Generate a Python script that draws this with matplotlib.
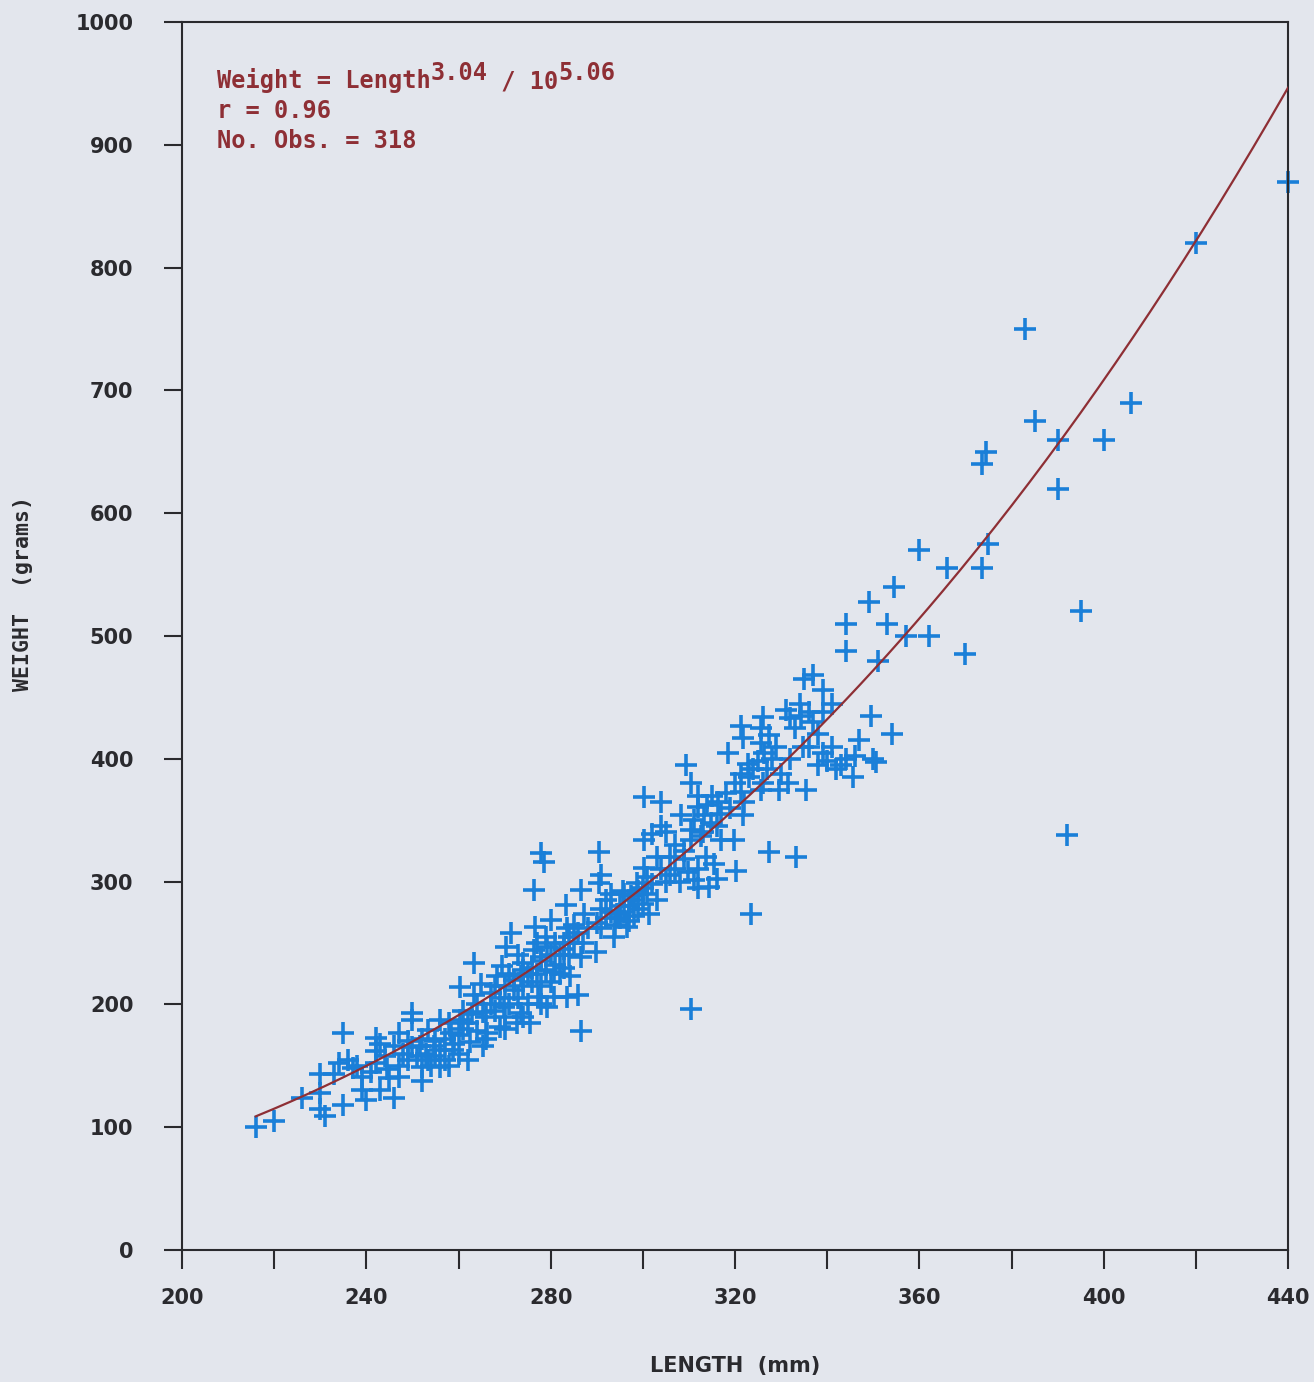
# -*- coding: utf-8 -*-
# length-weight scatter with fitted power curve (old plotter style chart)
import numpy as np
import matplotlib
matplotlib.use("Agg")
import matplotlib.pyplot as plt
from matplotlib.transforms import offset_copy

# fitted relation  W = L^b / 10^a
b_exp = 3.04
a_exp = 5.06
r_val = 0.96
n_obs = 318

length_small = [216, 220, 226, 230, 230, 231, 235, 230, 233, 234, 237, 240, 235, 242, 242, 242, 239, 239,
                243, 246, 246, 247, 250, 250, 249, 252, 252, 244.5, 247, 236, 238, 241, 244, 245, 243, 248,
                247, 249, 250, 251]
weight_small = [100, 105, 124, 128, 115, 109, 118, 143, 143, 152, 148, 122, 177, 173, 162, 152, 141, 130,
                130, 124, 166, 177, 193, 187, 155, 149, 138, 147, 141, 155, 150, 145, 158, 140, 168, 160,
                150, 170, 165, 158]

length_blob = [251.7, 253.3, 256, 253.3, 254.6, 256, 258.3, 258.9, 260.4, 260.4, 262.6, 263.3, 263.3, 264.8,
               265.4, 265.4, 266.2, 252, 253, 254, 255, 255, 256, 257, 257, 258, 258, 259, 260, 260, 261,
               261, 262, 262, 263, 264, 264]
weight_blob = [166, 155, 149, 179, 166, 187, 177, 163, 187, 214.5, 169, 208, 234, 217,
               194, 166, 177, 172, 160, 150, 158, 170, 163, 155, 172, 150, 185, 168, 175, 160, 180,
               195, 185, 155, 192, 178, 200]

length_mid = [267, 269.1, 269.5, 269.8, 270.2, 271.3, 272, 272.8, 273.5, 273.5, 274.1, 275.6, 276.3, 276.3,
              276.7, 277.2, 277.8, 278, 278.5, 279.3, 279.3, 280, 280.7, 280.7, 282.8, 283.3, 283.6, 283.6,
              284.3, 285.9, 286.5, 286.5, 286.5, 287.2, 289.8, 290.1, 290.4, 290.4, 291, 268.4,
              266, 267, 268, 268, 269, 270, 270, 271, 271, 272, 273, 273, 274, 274, 275, 275, 276, 276,
              277, 277, 278, 278, 279, 279, 280, 280, 281, 281, 282, 282, 283, 283, 284, 284, 285, 285,
              286, 287, 288, 266, 270, 274, 278]
weight_mid = [209, 182, 231, 198, 247, 258, 212, 185, 193, 223, 234, 185, 244, 293,
              263, 206, 239, 323, 316, 198, 247, 269, 206, 226, 250, 281, 206, 262,
              223, 208, 239, 178, 293, 274, 243, 266, 299, 324, 305, 223,
              190, 200, 215, 195, 205, 215, 190, 225, 200, 220, 205, 240, 215, 228, 200, 225, 218, 230,
              225, 250, 215, 235, 228, 255, 218, 240, 232, 250, 225, 240, 245, 230, 255, 240, 250, 265,
              258, 250, 262, 172, 180, 190, 200]

length_upper = [293.7, 294.5, 295.6, 296.6, 297.4, 298.8, 300.2, 301, 301.3, 300.2, 302, 300.2, 303.9, 303.9,
                308.3, 308.9, 309.7, 309.3, 310.4, 310.4, 310.4, 310.4,
                291, 291, 292, 292, 293, 293, 294, 295, 295, 296, 296, 297, 297, 298, 298, 299, 299, 300,
                300, 301, 302, 303, 304, 305, 306, 307, 307, 308, 309, 305, 303, 306]
weight_upper = [255, 274, 292, 263, 288, 299, 311, 304, 274, 369, 339, 334, 345, 365,
                354, 318, 308, 395, 380, 342, 334, 196,
                278, 262, 270, 285, 275, 290, 265, 280, 270, 290, 275, 280, 268, 285, 272, 292, 278, 282,
                295, 290, 298, 285, 310, 300, 320, 330, 310, 300, 325, 340, 320, 305]

length_high = [311.1, 311.9, 311.9, 312.6, 313.3, 313.7, 314.3, 314.8, 315.4, 316.3, 317, 318.4, 319.8, 320.2,
               321.3, 321.3, 321.7, 322.8, 323.5, 325.6, 326.3, 325.6, 327.4, 329.6, 326, 327.4, 325.6,
               321.3, 321.7, 333.3,
               311, 312, 313, 314, 315, 316, 317, 318, 319, 320, 322, 323, 324, 325, 326, 327, 328, 329,
               330, 312, 316]
weight_high = [301, 295, 361, 337, 354, 320, 296, 348, 314, 365, 334, 405, 334, 309,
               373, 388, 354, 396, 274, 413, 405, 375, 324, 375, 434, 419, 425,
               427, 417, 320,
               350, 370, 340, 362, 370, 345, 355, 372, 360, 380, 365, 385, 392, 398, 380, 392, 400, 410,
               388, 310, 302]

length_top = [331.4, 334.7, 335.4, 332, 334.3, 336, 337, 335, 337, 339, 341, 339, 344, 344, 345.5, 347,
              350.5, 349.5, 349, 351, 353, 354, 354.5, 357, 350, 338, 340, 342, 339, 336, 344, 346, 333,
              331, 334, 338, 332, 341, 343]
weight_top = [380, 410, 375, 433, 435, 438, 430, 465, 468, 456, 445, 438, 510, 488, 385, 415,
              397, 435, 528, 480, 510, 420, 540, 500, 400, 395, 398, 392, 405, 410, 400, 402, 425,
              440, 445, 420, 400, 410, 395]

length_big = [360, 362, 366, 370, 373.5, 373.5, 374.5, 375, 383, 385, 390, 390, 392, 395, 400, 406, 420, 440]
weight_big = [570, 500, 555, 485, 555, 640, 650, 575, 750, 675, 660, 620, 338, 520, 660, 690, 820, 870]

x_ticks_major = [200, 240, 280, 320, 360, 400, 440]
y_ticks_major = [0, 100, 200, 300, 400, 500, 600, 700, 800, 900, 1000]

bg = "#e3e6ed"
ink = "#2a2a2e"
red_ink = "#8e2f35"
blue = "#1a7fd8"

length = np.array(length_small + length_blob + length_mid + length_upper + length_high + length_top + length_big)
weight = np.array(weight_small + weight_blob + weight_mid + weight_upper + weight_high + weight_top + weight_big)

fig = plt.figure(figsize=(13.14, 13.82), dpi=100, facecolor=bg)
ax = fig.add_axes([182 / 1314, 132 / 1382, (1288 - 182) / 1314, (1250 - 22) / 1382])
ax.set_facecolor(bg)

ax.plot(length, weight, linestyle="none", marker="+", markersize=16, markeredgewidth=2.6,
        color=blue, zorder=2, clip_on=False)

# fitted curve over the observed range
lfit = np.linspace(216, 440, 300)
ax.plot(lfit, lfit ** b_exp / 10 ** a_exp, color=red_ink, lw=1.6, zorder=3)

ax.set_xlim(200, 440)
ax.set_ylim(0, 1000)
ax.set_xticks(x_ticks_major)
ax.set_xticks(np.arange(200, 441, 20), minor=True)
ax.set_yticks(y_ticks_major)
ax.tick_params(axis="both", which="both", direction="out", color=ink, width=1.5, labelcolor=ink)
ax.tick_params(axis="x", which="both", length=14, pad=13)
ax.tick_params(axis="y", length=13, pad=22)
for lab in ax.get_xticklabels() + ax.get_yticklabels():
    lab.set_fontsize(15)
    lab.set_fontweight("bold")
for sp in ax.spines.values():
    sp.set_color(ink)
    sp.set_linewidth(1.5)

ax.set_xlabel("LENGTH  (mm)", fontsize=15, fontweight="bold", color=ink, va="top")
ax.xaxis.set_label_coords(0.5, -0.086)
ax.set_ylabel("WEIGHT  (grams)", fontsize=15.5, color=ink, family="DejaVu Sans Mono", fontweight="bold")
ax.yaxis.set_label_coords(-0.135, 0.535)

# equation lines, plotter mono font; pieces shifted by whole characters
fs = 17
cw = 0.602 * fs   # advance of one mono char, points
tkw = dict(family="DejaVu Sans Mono", fontsize=fs, color=red_ink, fontweight="bold", va="baseline")
x0, y0 = 0.032, 0.946
pieces = [("Weight = Length", 0, 0), ("%.2f" % b_exp, 15, 6), (" / 10", 19, 0), ("%.2f" % a_exp, 24, 6)]
for txt, nchar, dy in pieces:
    tr = offset_copy(ax.transAxes, fig=fig, x=nchar * cw, y=dy, units="points")
    ax.text(x0, y0, txt, transform=tr, **tkw)
ax.text(x0, 0.922, "r = %.2f" % r_val, transform=ax.transAxes, **tkw)
ax.text(x0, 0.897, "No. Obs. = %d" % n_obs, transform=ax.transAxes, **tkw)

fig.savefig("out.png", dpi=100, facecolor=bg)
